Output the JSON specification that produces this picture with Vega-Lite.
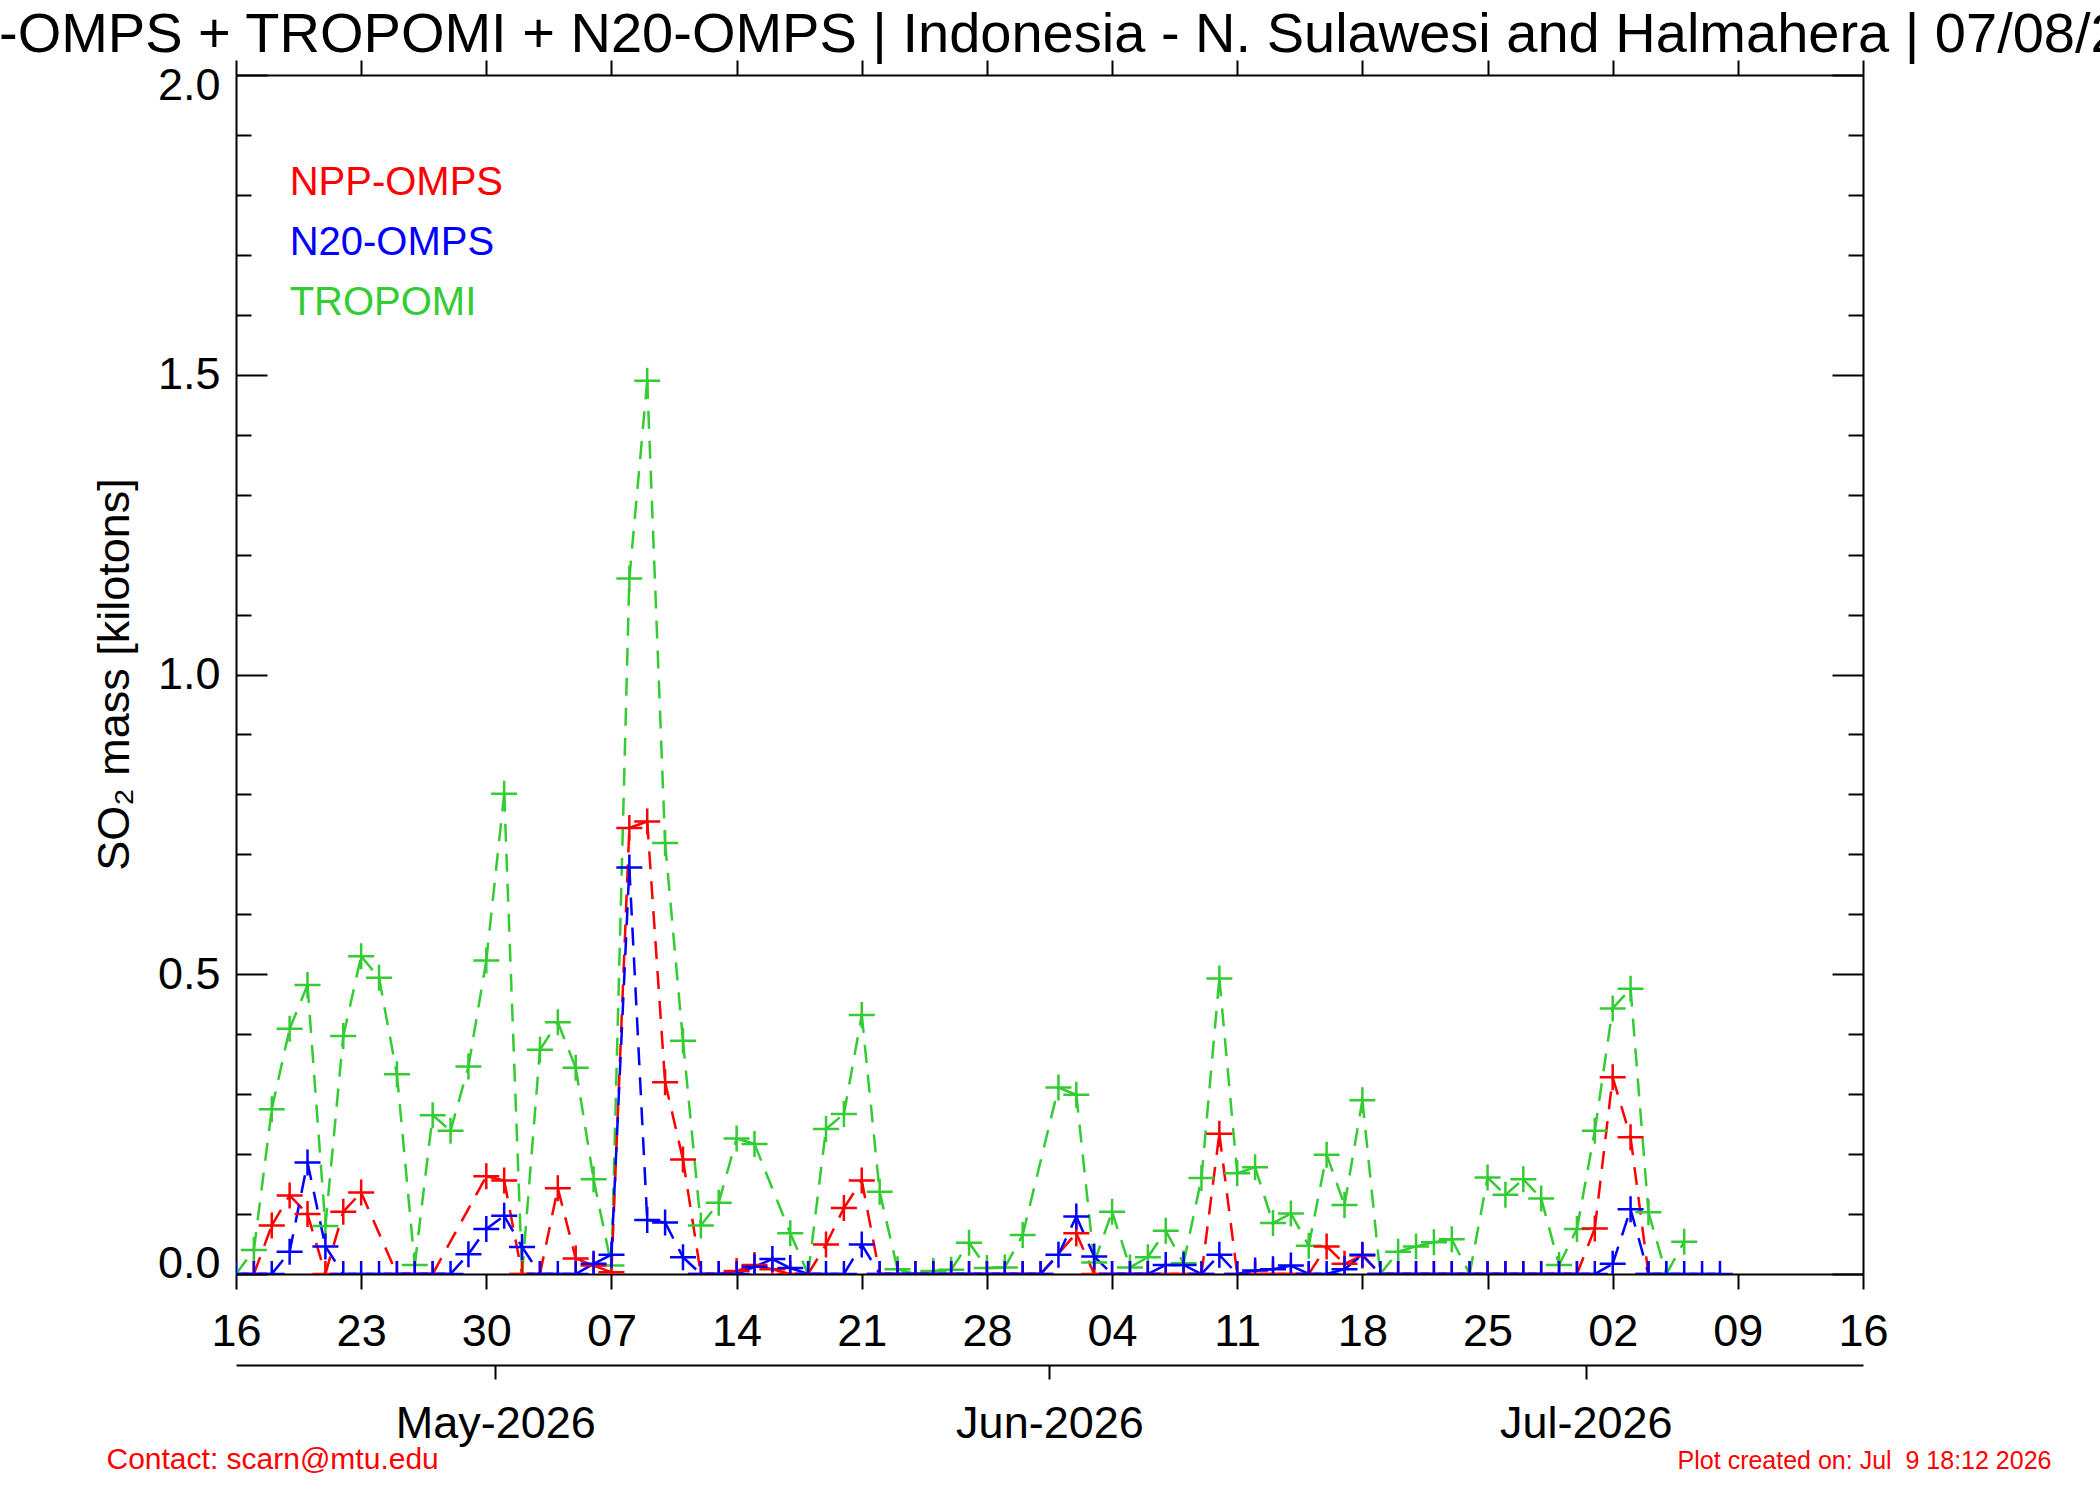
{
"$schema": "https://vega.github.io/schema/vega-lite/v6.json",
"width": 1627, "height": 1199,
"autosize": {"type": "none"},
"padding": {"left": 236, "top": 75, "right": 237, "bottom": 226},
"background": "white",
"config": {"font": "Liberation Sans", "view": {"stroke": null},
  "axis": {"grid": false, "domainColor": "black", "tickColor": "black", "labelColor": "black", "titleColor": "black", "domainWidth": 2, "tickWidth": 2, "labelFont": "Liberation Sans", "titleFont": "Liberation Sans", "titleFontWeight": "normal", "labelLimit": 0}},
"title": {"text": "NPP-OMPS + TROPOMI + N20-OMPS | Indonesia - N. Sulawesi and Halmahera | 07/08/2026", "fontSize": 56, "fontWeight": "normal", "font": "Liberation Sans", "color": "black", "anchor": "middle", "frame": "group", "baseline": "alphabetic", "offset": -49, "limit": 0},
"datasets": {
"legend": [
{"series": "NPP-OMPS", "date": "2026-04-19", "value": 1.82},
{"series": "N20-OMPS", "date": "2026-04-19", "value": 1.72},
{"series": "TROPOMI", "date": "2026-04-19", "value": 1.62}
],
"main": [
{"series":"TROPOMI","date":"2026-04-16","value":0},
{"series":"TROPOMI","date":"2026-04-17","value":0.04},
{"series":"TROPOMI","date":"2026-04-18","value":0.275},
{"series":"TROPOMI","date":"2026-04-19","value":0.409},
{"series":"TROPOMI","date":"2026-04-20","value":0.482},
{"series":"TROPOMI","date":"2026-04-21","value":0.08},
{"series":"TROPOMI","date":"2026-04-22","value":0.397},
{"series":"TROPOMI","date":"2026-04-23","value":0.53},
{"series":"TROPOMI","date":"2026-04-24","value":0.494},
{"series":"TROPOMI","date":"2026-04-25","value":0.333},
{"series":"TROPOMI","date":"2026-04-26","value":0.015},
{"series":"TROPOMI","date":"2026-04-27","value":0.265},
{"series":"TROPOMI","date":"2026-04-28","value":0.239},
{"series":"TROPOMI","date":"2026-04-29","value":0.346},
{"series":"TROPOMI","date":"2026-04-30","value":0.523},
{"series":"TROPOMI","date":"2026-05-01","value":0.801},
{"series":"TROPOMI","date":"2026-05-02","value":0},
{"series":"TROPOMI","date":"2026-05-03","value":0.374},
{"series":"TROPOMI","date":"2026-05-04","value":0.42},
{"series":"TROPOMI","date":"2026-05-05","value":0.344},
{"series":"TROPOMI","date":"2026-05-06","value":0.158},
{"series":"TROPOMI","date":"2026-05-07","value":0.014},
{"series":"TROPOMI","date":"2026-05-08","value":1.16},
{"series":"TROPOMI","date":"2026-05-09","value":1.49},
{"series":"TROPOMI","date":"2026-05-10","value":0.719},
{"series":"TROPOMI","date":"2026-05-11","value":0.389},
{"series":"TROPOMI","date":"2026-05-12","value":0.081},
{"series":"TROPOMI","date":"2026-05-13","value":0.119},
{"series":"TROPOMI","date":"2026-05-14","value":0.226},
{"series":"TROPOMI","date":"2026-05-15","value":0.217},
{"series":"TROPOMI","date":"2026-05-17","value":0.068},
{"series":"TROPOMI","date":"2026-05-18","value":0},
{"series":"TROPOMI","date":"2026-05-19","value":0.242},
{"series":"TROPOMI","date":"2026-05-20","value":0.267},
{"series":"TROPOMI","date":"2026-05-21","value":0.432},
{"series":"TROPOMI","date":"2026-05-22","value":0.137},
{"series":"TROPOMI","date":"2026-05-23","value":0.008},
{"series":"TROPOMI","date":"2026-05-24","value":0},
{"series":"TROPOMI","date":"2026-05-25","value":0.005},
{"series":"TROPOMI","date":"2026-05-26","value":0.007},
{"series":"TROPOMI","date":"2026-05-27","value":0.052},
{"series":"TROPOMI","date":"2026-05-28","value":0.01},
{"series":"TROPOMI","date":"2026-05-29","value":0.011},
{"series":"TROPOMI","date":"2026-05-30","value":0.065},
{"series":"TROPOMI","date":"2026-06-01","value":0.311},
{"series":"TROPOMI","date":"2026-06-02","value":0.299},
{"series":"TROPOMI","date":"2026-06-03","value":0.019},
{"series":"TROPOMI","date":"2026-06-04","value":0.104},
{"series":"TROPOMI","date":"2026-06-05","value":0.011},
{"series":"TROPOMI","date":"2026-06-06","value":0.028},
{"series":"TROPOMI","date":"2026-06-07","value":0.072},
{"series":"TROPOMI","date":"2026-06-08","value":0.018},
{"series":"TROPOMI","date":"2026-06-09","value":0.16},
{"series":"TROPOMI","date":"2026-06-10","value":0.493},
{"series":"TROPOMI","date":"2026-06-11","value":0.168},
{"series":"TROPOMI","date":"2026-06-12","value":0.178},
{"series":"TROPOMI","date":"2026-06-13","value":0.085},
{"series":"TROPOMI","date":"2026-06-14","value":0.101},
{"series":"TROPOMI","date":"2026-06-15","value":0.047},
{"series":"TROPOMI","date":"2026-06-16","value":0.199},
{"series":"TROPOMI","date":"2026-06-17","value":0.115},
{"series":"TROPOMI","date":"2026-06-18","value":0.29},
{"series":"TROPOMI","date":"2026-06-19","value":0},
{"series":"TROPOMI","date":"2026-06-20","value":0.037},
{"series":"TROPOMI","date":"2026-06-21","value":0.046},
{"series":"TROPOMI","date":"2026-06-22","value":0.053},
{"series":"TROPOMI","date":"2026-06-23","value":0.058},
{"series":"TROPOMI","date":"2026-06-24","value":0},
{"series":"TROPOMI","date":"2026-06-25","value":0.161},
{"series":"TROPOMI","date":"2026-06-26","value":0.132},
{"series":"TROPOMI","date":"2026-06-27","value":0.158},
{"series":"TROPOMI","date":"2026-06-28","value":0.126},
{"series":"TROPOMI","date":"2026-06-29","value":0.015},
{"series":"TROPOMI","date":"2026-06-30","value":0.075},
{"series":"TROPOMI","date":"2026-07-01","value":0.239},
{"series":"TROPOMI","date":"2026-07-02","value":0.443},
{"series":"TROPOMI","date":"2026-07-03","value":0.476},
{"series":"TROPOMI","date":"2026-07-04","value":0.103},
{"series":"TROPOMI","date":"2026-07-05","value":0},
{"series":"TROPOMI","date":"2026-07-06","value":0.054},
{"series":"NPP-OMPS","date":"2026-04-17","value":0},
{"series":"NPP-OMPS","date":"2026-04-18","value":0.081},
{"series":"NPP-OMPS","date":"2026-04-19","value":0.131},
{"series":"NPP-OMPS","date":"2026-04-20","value":0.1},
{"series":"NPP-OMPS","date":"2026-04-21","value":0},
{"series":"NPP-OMPS","date":"2026-04-22","value":0.104},
{"series":"NPP-OMPS","date":"2026-04-23","value":0.136},
{"series":"NPP-OMPS","date":"2026-04-25","value":0},
{"series":"NPP-OMPS","date":"2026-04-26","value":0},
{"series":"NPP-OMPS","date":"2026-04-27","value":0},
{"series":"NPP-OMPS","date":"2026-04-30","value":0.163},
{"series":"NPP-OMPS","date":"2026-05-01","value":0.156},
{"series":"NPP-OMPS","date":"2026-05-02","value":0},
{"series":"NPP-OMPS","date":"2026-05-03","value":0},
{"series":"NPP-OMPS","date":"2026-05-04","value":0.143},
{"series":"NPP-OMPS","date":"2026-05-05","value":0.026},
{"series":"NPP-OMPS","date":"2026-05-06","value":0.014},
{"series":"NPP-OMPS","date":"2026-05-07","value":0.003},
{"series":"NPP-OMPS","date":"2026-05-08","value":0.744},
{"series":"NPP-OMPS","date":"2026-05-09","value":0.755},
{"series":"NPP-OMPS","date":"2026-05-10","value":0.32},
{"series":"NPP-OMPS","date":"2026-05-11","value":0.191},
{"series":"NPP-OMPS","date":"2026-05-12","value":0},
{"series":"NPP-OMPS","date":"2026-05-13","value":0},
{"series":"NPP-OMPS","date":"2026-05-14","value":0.005},
{"series":"NPP-OMPS","date":"2026-05-15","value":0.015},
{"series":"NPP-OMPS","date":"2026-05-16","value":0.008},
{"series":"NPP-OMPS","date":"2026-05-17","value":0},
{"series":"NPP-OMPS","date":"2026-05-18","value":0},
{"series":"NPP-OMPS","date":"2026-05-19","value":0.049},
{"series":"NPP-OMPS","date":"2026-05-20","value":0.11},
{"series":"NPP-OMPS","date":"2026-05-21","value":0.156},
{"series":"NPP-OMPS","date":"2026-05-22","value":0},
{"series":"NPP-OMPS","date":"2026-05-23","value":0},
{"series":"NPP-OMPS","date":"2026-05-24","value":0},
{"series":"NPP-OMPS","date":"2026-05-25","value":0},
{"series":"NPP-OMPS","date":"2026-05-26","value":0},
{"series":"NPP-OMPS","date":"2026-05-27","value":0},
{"series":"NPP-OMPS","date":"2026-05-28","value":0},
{"series":"NPP-OMPS","date":"2026-05-29","value":0},
{"series":"NPP-OMPS","date":"2026-05-30","value":0},
{"series":"NPP-OMPS","date":"2026-05-31","value":0},
{"series":"NPP-OMPS","date":"2026-06-02","value":0.068},
{"series":"NPP-OMPS","date":"2026-06-03","value":0},
{"series":"NPP-OMPS","date":"2026-06-04","value":0},
{"series":"NPP-OMPS","date":"2026-06-05","value":0},
{"series":"NPP-OMPS","date":"2026-06-06","value":0},
{"series":"NPP-OMPS","date":"2026-06-07","value":0},
{"series":"NPP-OMPS","date":"2026-06-08","value":0},
{"series":"NPP-OMPS","date":"2026-06-09","value":0},
{"series":"NPP-OMPS","date":"2026-06-10","value":0.234},
{"series":"NPP-OMPS","date":"2026-06-11","value":0},
{"series":"NPP-OMPS","date":"2026-06-12","value":0},
{"series":"NPP-OMPS","date":"2026-06-13","value":0},
{"series":"NPP-OMPS","date":"2026-06-14","value":0},
{"series":"NPP-OMPS","date":"2026-06-15","value":0},
{"series":"NPP-OMPS","date":"2026-06-16","value":0.046},
{"series":"NPP-OMPS","date":"2026-06-17","value":0.017},
{"series":"NPP-OMPS","date":"2026-06-18","value":0.031},
{"series":"NPP-OMPS","date":"2026-06-19","value":0},
{"series":"NPP-OMPS","date":"2026-06-20","value":0},
{"series":"NPP-OMPS","date":"2026-06-21","value":0},
{"series":"NPP-OMPS","date":"2026-06-22","value":0},
{"series":"NPP-OMPS","date":"2026-06-23","value":0},
{"series":"NPP-OMPS","date":"2026-06-24","value":0},
{"series":"NPP-OMPS","date":"2026-06-25","value":0},
{"series":"NPP-OMPS","date":"2026-06-26","value":0},
{"series":"NPP-OMPS","date":"2026-06-27","value":0},
{"series":"NPP-OMPS","date":"2026-06-28","value":0},
{"series":"NPP-OMPS","date":"2026-06-29","value":0},
{"series":"NPP-OMPS","date":"2026-06-30","value":0},
{"series":"NPP-OMPS","date":"2026-07-01","value":0.076},
{"series":"NPP-OMPS","date":"2026-07-02","value":0.328},
{"series":"NPP-OMPS","date":"2026-07-03","value":0.228},
{"series":"NPP-OMPS","date":"2026-07-04","value":0},
{"series":"N20-OMPS","date":"2026-04-16","value":0},
{"series":"N20-OMPS","date":"2026-04-17","value":0},
{"series":"N20-OMPS","date":"2026-04-18","value":0},
{"series":"N20-OMPS","date":"2026-04-19","value":0.037},
{"series":"N20-OMPS","date":"2026-04-20","value":0.186},
{"series":"N20-OMPS","date":"2026-04-21","value":0.046},
{"series":"N20-OMPS","date":"2026-04-22","value":0},
{"series":"N20-OMPS","date":"2026-04-23","value":0},
{"series":"N20-OMPS","date":"2026-04-24","value":0},
{"series":"N20-OMPS","date":"2026-04-25","value":0},
{"series":"N20-OMPS","date":"2026-04-26","value":0},
{"series":"N20-OMPS","date":"2026-04-27","value":0},
{"series":"N20-OMPS","date":"2026-04-28","value":0},
{"series":"N20-OMPS","date":"2026-04-29","value":0.033},
{"series":"N20-OMPS","date":"2026-04-30","value":0.075},
{"series":"N20-OMPS","date":"2026-05-01","value":0.097},
{"series":"N20-OMPS","date":"2026-05-02","value":0.045},
{"series":"N20-OMPS","date":"2026-05-03","value":0},
{"series":"N20-OMPS","date":"2026-05-04","value":0},
{"series":"N20-OMPS","date":"2026-05-05","value":0},
{"series":"N20-OMPS","date":"2026-05-06","value":0.017},
{"series":"N20-OMPS","date":"2026-05-07","value":0.032},
{"series":"N20-OMPS","date":"2026-05-08","value":0.678},
{"series":"N20-OMPS","date":"2026-05-09","value":0.09},
{"series":"N20-OMPS","date":"2026-05-10","value":0.086},
{"series":"N20-OMPS","date":"2026-05-11","value":0.028},
{"series":"N20-OMPS","date":"2026-05-12","value":0},
{"series":"N20-OMPS","date":"2026-05-13","value":0},
{"series":"N20-OMPS","date":"2026-05-14","value":0},
{"series":"N20-OMPS","date":"2026-05-15","value":0.012},
{"series":"N20-OMPS","date":"2026-05-16","value":0.025},
{"series":"N20-OMPS","date":"2026-05-17","value":0.01},
{"series":"N20-OMPS","date":"2026-05-18","value":0},
{"series":"N20-OMPS","date":"2026-05-19","value":0},
{"series":"N20-OMPS","date":"2026-05-20","value":0},
{"series":"N20-OMPS","date":"2026-05-21","value":0.049},
{"series":"N20-OMPS","date":"2026-05-22","value":0},
{"series":"N20-OMPS","date":"2026-05-23","value":0},
{"series":"N20-OMPS","date":"2026-05-24","value":0},
{"series":"N20-OMPS","date":"2026-05-25","value":0},
{"series":"N20-OMPS","date":"2026-05-26","value":0},
{"series":"N20-OMPS","date":"2026-05-27","value":0},
{"series":"N20-OMPS","date":"2026-05-28","value":0},
{"series":"N20-OMPS","date":"2026-05-29","value":0},
{"series":"N20-OMPS","date":"2026-05-30","value":0},
{"series":"N20-OMPS","date":"2026-05-31","value":0},
{"series":"N20-OMPS","date":"2026-06-01","value":0.032},
{"series":"N20-OMPS","date":"2026-06-02","value":0.096},
{"series":"N20-OMPS","date":"2026-06-03","value":0.029},
{"series":"N20-OMPS","date":"2026-06-04","value":0},
{"series":"N20-OMPS","date":"2026-06-05","value":0},
{"series":"N20-OMPS","date":"2026-06-06","value":0},
{"series":"N20-OMPS","date":"2026-06-07","value":0.015},
{"series":"N20-OMPS","date":"2026-06-08","value":0.015},
{"series":"N20-OMPS","date":"2026-06-09","value":0},
{"series":"N20-OMPS","date":"2026-06-10","value":0.032},
{"series":"N20-OMPS","date":"2026-06-11","value":0},
{"series":"N20-OMPS","date":"2026-06-12","value":0.006},
{"series":"N20-OMPS","date":"2026-06-13","value":0.008},
{"series":"N20-OMPS","date":"2026-06-14","value":0.014},
{"series":"N20-OMPS","date":"2026-06-15","value":0},
{"series":"N20-OMPS","date":"2026-06-16","value":0},
{"series":"N20-OMPS","date":"2026-06-17","value":0.008},
{"series":"N20-OMPS","date":"2026-06-18","value":0.032},
{"series":"N20-OMPS","date":"2026-06-19","value":0},
{"series":"N20-OMPS","date":"2026-06-20","value":0},
{"series":"N20-OMPS","date":"2026-06-21","value":0},
{"series":"N20-OMPS","date":"2026-06-22","value":0},
{"series":"N20-OMPS","date":"2026-06-23","value":0},
{"series":"N20-OMPS","date":"2026-06-24","value":0},
{"series":"N20-OMPS","date":"2026-06-25","value":0},
{"series":"N20-OMPS","date":"2026-06-26","value":0},
{"series":"N20-OMPS","date":"2026-06-27","value":0},
{"series":"N20-OMPS","date":"2026-06-28","value":0},
{"series":"N20-OMPS","date":"2026-06-29","value":0},
{"series":"N20-OMPS","date":"2026-06-30","value":0},
{"series":"N20-OMPS","date":"2026-07-01","value":0},
{"series":"N20-OMPS","date":"2026-07-02","value":0.017},
{"series":"N20-OMPS","date":"2026-07-03","value":0.108},
{"series":"N20-OMPS","date":"2026-07-04","value":0},
{"series":"N20-OMPS","date":"2026-07-05","value":0},
{"series":"N20-OMPS","date":"2026-07-06","value":0},
{"series":"N20-OMPS","date":"2026-07-07","value":0},
{"series":"N20-OMPS","date":"2026-07-08","value":0}
]
},
"resolve": {"axis": {"x": "independent", "y": "independent"}},
"layer": [
{
 "data": {"name": "main"},
 "transform": [
  {"window": [{"op": "lead", "field": "date", "as": "date2"}, {"op": "lead", "field": "value", "as": "value2"}], "groupby": ["series"], "sort": [{"field": "date", "order": "ascending"}]},
  {"filter": "datum.date2 != null"}
 ],
 "mark": {"type": "rule", "strokeWidth": 2.5, "strokeDash": [18, 12], "clip": true},
 "encoding": {
  "x": {"field": "date", "type": "temporal",
   "scale": {"type": "utc", "domain": [{"year": 2026, "month": 4, "date": 16, "utc": true}, {"year": 2026, "month": 7, "date": 16, "utc": true}]},
   "axis": {"orient": "bottom", "format": "%d", "tickSize": 15, "labelPadding": 20, "labelFontSize": 45, "labelFlush": false, "labelOverlap": false,
    "values": [{"year":2026,"month":4,"date":16,"utc":true},{"year":2026,"month":4,"date":23,"utc":true},{"year":2026,"month":4,"date":30,"utc":true},{"year":2026,"month":5,"date":7,"utc":true},{"year":2026,"month":5,"date":14,"utc":true},{"year":2026,"month":5,"date":21,"utc":true},{"year":2026,"month":5,"date":28,"utc":true},{"year":2026,"month":6,"date":4,"utc":true},{"year":2026,"month":6,"date":11,"utc":true},{"year":2026,"month":6,"date":18,"utc":true},{"year":2026,"month":6,"date":25,"utc":true},{"year":2026,"month":7,"date":2,"utc":true},{"year":2026,"month":7,"date":9,"utc":true},{"year":2026,"month":7,"date":16,"utc":true}],
    "title": "Contact: scarn@mtu.edu", "titleColor": "#ff0000", "titleFontSize": 30, "titleX": -130, "titleY": 194, "titleAlign": "left", "titleBaseline": "alphabetic", "titleAngle": 0}},
  "x2": {"field": "date2"},
  "y": {"field": "value", "type": "quantitative", "scale": {"domain": [0, 2]},
   "axis": {"orient": "left", "values": [0, 0.5, 1, 1.5, 2], "format": ".1f", "tickSize": -31, "labelPadding": 47, "labelFontSize": 45, "labelFlush": true, "labelFlushOffset": 12, "labelOverlap": false,
    "title": "SO₂ mass [kilotons]", "titleFontSize": 45, "titleX": -122, "titleY": 599, "titleAngle": 270, "titleAlign": "center", "titleBaseline": "middle"}},
  "y2": {"field": "value2"},
  "color": {"field": "series", "type": "nominal", "scale": {"domain": ["NPP-OMPS", "N20-OMPS", "TROPOMI"], "range": ["#ff0000", "#0000ff", "#33cc33"]}, "legend": null},
  "order": {"field": "series", "sort": "descending"}
 }
},
{
 "data": {"name": "main"},
 "mark": {"type": "point", "shape": "M-1,0H1M0,-1V1", "filled": false, "size": 676, "strokeWidth": 2.5, "opacity": 1, "clip": true},
 "encoding": {
  "x": {"field": "date", "type": "temporal",
   "scale": {"type": "utc", "domain": [{"year": 2026, "month": 4, "date": 16, "utc": true}, {"year": 2026, "month": 7, "date": 16, "utc": true}]},
   "axis": {"orient": "top", "labels": false, "tickSize": 15,
    "values": [{"year":2026,"month":4,"date":16,"utc":true},{"year":2026,"month":4,"date":23,"utc":true},{"year":2026,"month":4,"date":30,"utc":true},{"year":2026,"month":5,"date":7,"utc":true},{"year":2026,"month":5,"date":14,"utc":true},{"year":2026,"month":5,"date":21,"utc":true},{"year":2026,"month":5,"date":28,"utc":true},{"year":2026,"month":6,"date":4,"utc":true},{"year":2026,"month":6,"date":11,"utc":true},{"year":2026,"month":6,"date":18,"utc":true},{"year":2026,"month":6,"date":25,"utc":true},{"year":2026,"month":7,"date":2,"utc":true},{"year":2026,"month":7,"date":9,"utc":true},{"year":2026,"month":7,"date":16,"utc":true}],
    "title": "Plot created on: Jul \u00a09 18:12 2026", "titleColor": "#ff0000", "titleFontSize": 25, "titleX": 1815, "titleY": 1393, "titleAlign": "right", "titleBaseline": "alphabetic", "titleAngle": 0}},
  "y": {"field": "value", "type": "quantitative", "scale": {"domain": [0, 2]},
   "axis": {"orient": "right", "values": [0, 0.5, 1, 1.5, 2], "labels": false, "tickSize": -31, "title": null}},
  "color": {"field": "series", "type": "nominal", "legend": null},
  "order": {"field": "series", "sort": "descending"}
 }
},
{
 "data": {"name": "legend"},
 "mark": {"type": "text", "align": "left", "baseline": "middle", "fontSize": 40, "font": "Liberation Sans"},
 "encoding": {
  "x": {"field": "date", "type": "temporal",
   "scale": {"type": "utc", "domain": [{"year": 2026, "month": 4, "date": 16, "utc": true}, {"year": 2026, "month": 7, "date": 16, "utc": true}]},
   "axis": {"orient": "bottom", "offset": 91, "format": "%b-%Y", "tickSize": 14, "tickOffset": -9, "labelPadding": 22, "labelFontSize": 45, "labelFlush": false, "labelOverlap": false, "labelLimit": 0,
    "values": [{"year":2026,"month":5,"date":1,"utc":true},{"year":2026,"month":6,"date":1,"utc":true},{"year":2026,"month":7,"date":1,"utc":true}], "title": null}},
  "y": {"field": "value", "type": "quantitative", "scale": {"domain": [0, 2]},
   "axis": {"orient": "left", "values": [0.1,0.2,0.3,0.4,0.6,0.7,0.8,0.9,1.1,1.2,1.3,1.4,1.6,1.7,1.8,1.9], "labels": false, "domain": false, "tickSize": -15, "title": null}},
  "text": {"field": "series"},
  "color": {"field": "series", "type": "nominal", "legend": null}
 }
},
{
 "data": {"name": "legend"},
 "mark": {"type": "point", "opacity": 0},
 "encoding": {
  "x": {"field": "date", "type": "temporal",
   "scale": {"type": "utc", "domain": [{"year": 2026, "month": 4, "date": 16, "utc": true}, {"year": 2026, "month": 7, "date": 16, "utc": true}]},
   "axis": null},
  "y": {"field": "value", "type": "quantitative", "scale": {"domain": [0, 2]},
   "axis": {"orient": "right", "values": [0.1,0.2,0.3,0.4,0.6,0.7,0.8,0.9,1.1,1.2,1.3,1.4,1.6,1.7,1.8,1.9], "labels": false, "domain": false, "tickSize": -15, "title": null}}
 }
}
]
}
